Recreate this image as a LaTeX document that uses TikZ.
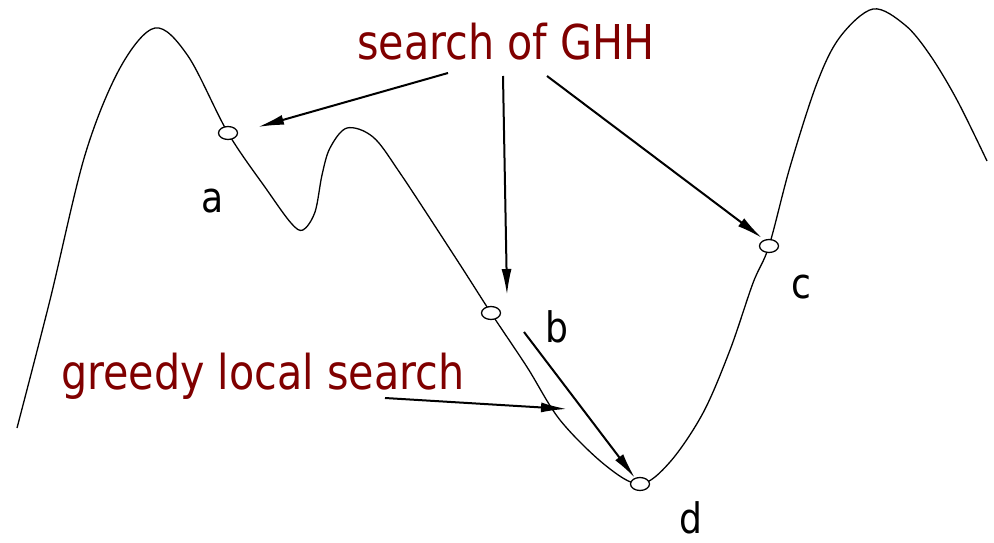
\documentclass[tikz,border=0pt]{standalone}
\usepackage{fontspec}
\newfontfamily\lblfont{DejaVu Sans}[FakeStretch=0.86]
\usetikzlibrary{arrows.meta,shapes.geometric}
\definecolor{darkred}{RGB}{128,0,0}
\begin{document}
\begin{tikzpicture}[x=1pt,y=-1pt,
  curve/.style={line width=1.3pt},
  pt/.style={ellipse,draw,fill=white,line width=1.3pt,minimum width=19pt,minimum height=13pt,inner sep=0pt},
  ptr/.style={line width=2pt,-{Latex[length=26pt,width=10pt]}},
  redtext/.style={font=\lblfont\fontsize{48}{56}\selectfont,text=darkred,inner sep=0pt,anchor=base west},
  lbltext/.style={font=\lblfont\fontsize{42}{50}\selectfont,inner sep=0pt,anchor=base}]
\useasboundingbox (0,0) rectangle (994,543);
% landscape curve
\draw[curve] plot[smooth,tension=0.55] coordinates {(17,428) (50,300) (85,155) (120,68) (155,28) (188,56) (228,133) (267,190) (291,223) (303,230) (315,212) (322,175) (330,148) (347,128) (373,137) (400,173) (457,260) (491,313) (527,367) (560,420) (605,465) (640,484) (670,462) (703,413) (730,350) (753,283) (769,246) (790,167) (817,83) (840,37) (873,9) (905,25) (930,55) (957,100) (987,161)};
% points
\node[pt] (a) at (228,133) {};
\node[pt] (b) at (491,313) {};
\node[pt] (c) at (769,246) {};
\node[pt] (d) at (640,484) {};
% labels
\node[lbltext] (la) at (213,212) {a};
\node[lbltext] (lb) at (557,342) {b};
\node[lbltext] (lc) at (801,298) {c};
\node[lbltext] (ld) at (691,533) {d};
\node[redtext] (ghh) at (357,60) {search of GHH};
\node[redtext] (greedy) at (61,389) {greedy local search};
% arrow ends
\coordinate (s1) at (448,73);  \coordinate (e1) at (258,127);
\coordinate (s2) at (503,76);  \coordinate (e2) at (507,295);
\coordinate (s3) at (547,76);  \coordinate (e3) at (762,238);
\coordinate (s4) at (385,398); \coordinate (e4) at (567,409);
\coordinate (s5) at (524,332); \coordinate (e5) at (635,478);
\draw[ptr] (s1) -- (e1);
\draw[ptr] (s2) -- (e2);
\draw[ptr] (s3) -- (e3);
\draw[ptr] (s4) -- (e4);
\draw[ptr] (s5) -- (e5);
\end{tikzpicture}
\end{document}
